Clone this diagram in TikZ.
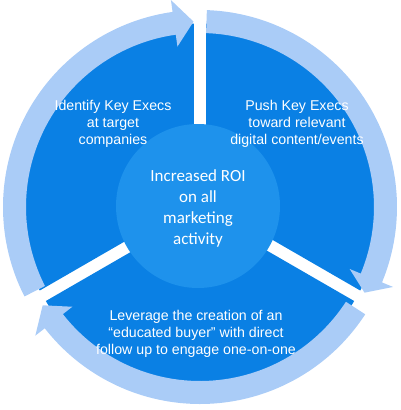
\documentclass[tikz,border=0pt]{standalone}
\usepackage{fontspec}
\setmainfont{Liberation Sans}
\newfontfamily\calib{Carlito}
\usetikzlibrary{calc}
\definecolor{darkseg}{RGB}{10,128,228}
\definecolor{centerc}{RGB}{30,146,236}
\definecolor{ringc}{RGB}{170,204,247}
\newcommand\ringarrow[3]{%
  \fill[ringc] ($(C)+(#1:197)$) arc[start angle=#1, end angle=#2, radius=197]
    -- ($(C)+(#2:209)$) -- ($(C)+(#3:185.5)$) -- ($(C)+(#2:162)$)
    -- ($(C)+(#2:174)$) arc[start angle=#2, end angle=#1, radius=174] -- cycle;}
\begin{document}
\begin{tikzpicture}[x=1pt,y=-1pt,
  segtext/.style={text=white,align=center,font=\fontsize{14.2}{17}\selectfont,inner sep=0pt},
  centertext/.style={text=white,align=center,font=\calib\fontsize{17}{21}\selectfont,inner sep=0pt},
  hub/.style={circle,fill=centerc,minimum size=164pt,inner sep=0pt}]
\useasboundingbox (0,0) rectangle (400,410);
\coordinate (C) at (200,207);
\coordinate (D) at (200,205);
% exploded dark segments
\foreach \b in {210,330,90} {
  \fill[darkseg] ($(D)+(\b:7)$) -- ++({\b-60}:178)
    arc[start angle={\b-60}, end angle={\b+60}, radius=178] -- cycle;
}
% circular arrows
\ringarrow{153}{262}{268}
\ringarrow{272}{382.5}{387.5}
\ringarrow{33}{142}{148}
% hub
\node[hub] (hub) at (198,206) {};
\node[centertext] (ct) at (198,208) {Increased ROI\\on all\\marketing\\activity};
% segment texts
\node[segtext] (tl) at (113,124) {Identify Key Execs\\at target\\companies};
\node[segtext] (tr) at (297,124) {Push Key Execs\\toward relevant\\digital content/events};
\node[segtext] (bt) at (196,334) {Leverage the creation of an\\“educated buyer” with direct\\follow up to engage one-on-one};
\end{tikzpicture}
\end{document}
